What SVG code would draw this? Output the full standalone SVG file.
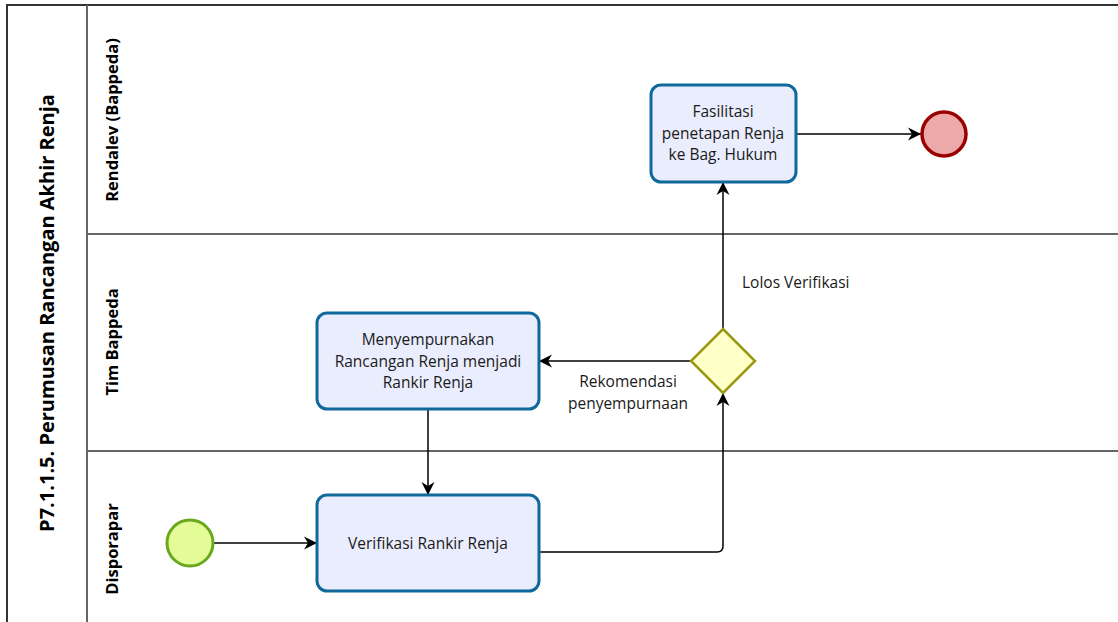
<svg xmlns="http://www.w3.org/2000/svg" width="1118" height="622" viewBox="0 0 1118 622">
<defs>
<style>
.pool{fill:#fff;stroke:#333;stroke-width:2}
.lane{fill:none;stroke:#666;stroke-width:2}
.task{fill:#eaedfd;stroke:#10699b;stroke-width:3}
.t{font-family:"Open Sans","Noto Sans",sans-serif;font-size:15.5px;fill:#1a1a1a;text-anchor:middle}
.lbl{font-family:"Open Sans","Noto Sans",sans-serif;font-size:15.5px;fill:#1a1a1a}
.plab{font-family:"Open Sans","Noto Sans",sans-serif;font-weight:bold;fill:#000;text-anchor:middle}
.edge{fill:none;stroke:#000;stroke-width:1.5}
</style>
<marker id="arr" viewBox="0 0 14 14" refX="13" refY="7" markerWidth="14" markerHeight="14" markerUnits="userSpaceOnUse" orient="auto">
<path d="M0,0.5 L13,7 L0,13.5 L4,7 Z" fill="#000"/>
</marker>
</defs>
<rect width="1118" height="622" fill="#fff"/>
<g id="pool">
<rect class="pool" x="7" y="5" width="1130" height="640"/>
<line class="lane" x1="87" y1="5" x2="87" y2="640"/>
<line class="lane" x1="87" y1="234" x2="1130" y2="234"/>
<line class="lane" x1="87" y1="451" x2="1130" y2="451"/>
<text class="plab" font-size="20" transform="translate(54,313) rotate(-90)">P7.1.1.5. Perumusan Rancangan Akhir Renja</text>
<text class="plab" font-size="16.5" transform="translate(118,120) rotate(-90)">Rendalev (Bappeda)</text>
<text class="plab" font-size="16.5" transform="translate(118,342) rotate(-90)">Tim Bappeda</text>
<text class="plab" font-size="16.5" transform="translate(118,549) rotate(-90)">Disporapar</text>
</g>
<g id="edges">
<path class="edge" d="M213,543 L317,543" marker-end="url(#arr)"/>
<path class="edge" d="M539,552 L717,552 Q723,552 723,546 L723,393" marker-end="url(#arr)"/>
<path class="edge" d="M691,361 L539,361" marker-end="url(#arr)"/>
<path class="edge" d="M723,329 L723,182" marker-end="url(#arr)"/>
<path class="edge" d="M428,409 L428,495" marker-end="url(#arr)"/>
<path class="edge" d="M796,134 L921,134" marker-end="url(#arr)"/>
<text class="t" x="628" y="387">Rekomendasi</text>
<text class="t" x="628" y="409">penyempurnaan</text>
<text class="lbl" x="742" y="288">Lolos Verifikasi</text>
</g>
<g id="task_fasilitasi">
<rect class="task" x="651" y="85" width="145" height="97" rx="10"/>
<text class="t" x="723" y="117">Fasilitasi</text>
<text class="t" x="723" y="139">penetapan Renja</text>
<text class="t" x="723" y="160">ke Bag. Hukum</text>
</g>
<g id="end_event">
<circle cx="944" cy="134" r="22" fill="#eda8a8" stroke="#990000" stroke-width="3.5"/>
</g>
<g id="task_menyempurnakan">
<rect class="task" x="317" y="313" width="222" height="96" rx="10"/>
<text class="t" x="428" y="345">Menyempurnakan</text>
<text class="t" x="428" y="367">Rancangan Renja menjadi</text>
<text class="t" x="428" y="388">Rankir Renja</text>
</g>
<g id="gateway">
<path d="M723,329 L755,361 L723,393 L691,361 Z" fill="#ffffc8" stroke="#999914" stroke-width="2.5"/>
</g>
<g id="task_verifikasi">
<rect class="task" x="317" y="495" width="222" height="96" rx="10"/>
<text class="t" x="428" y="549">Verifikasi Rankir Renja</text>
</g>
<g id="start_event">
<circle cx="190" cy="543" r="23" fill="#e4fc97" stroke="#6aa81e" stroke-width="3"/>
</g>
</svg>
